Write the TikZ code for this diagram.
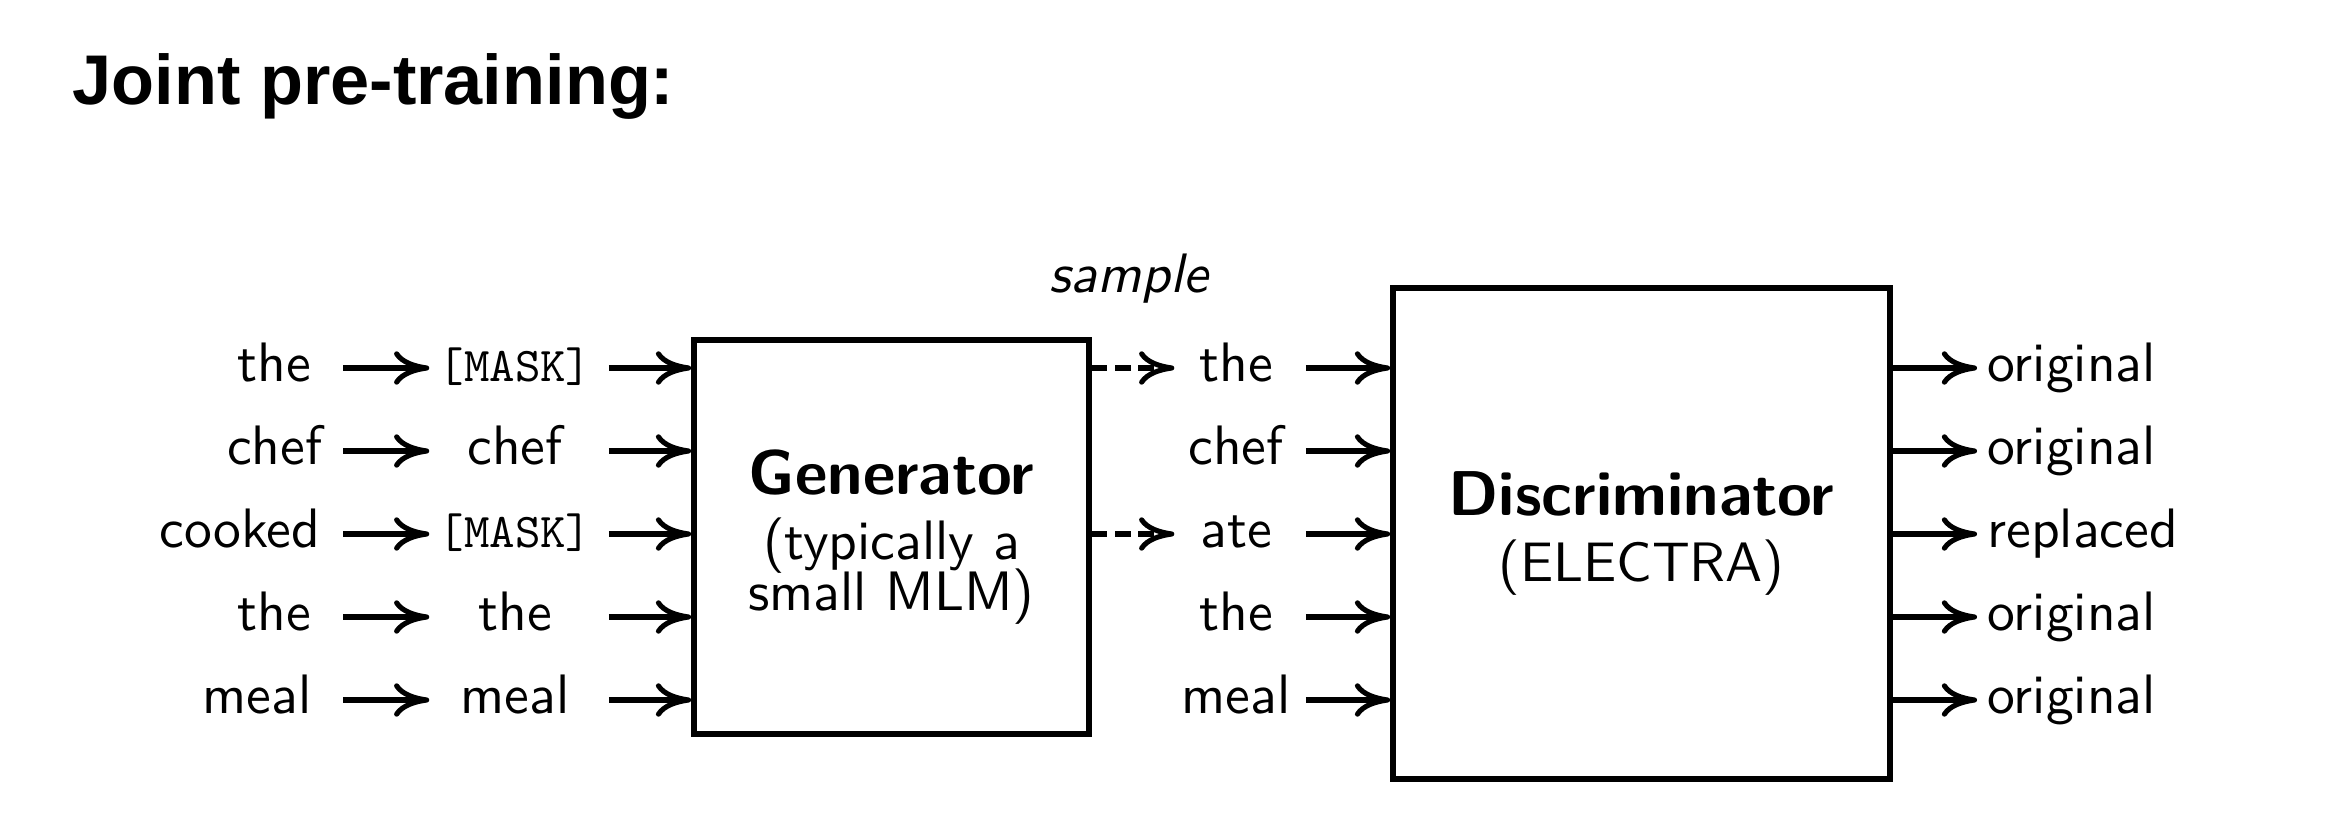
\documentclass[tikz,border=0pt]{standalone}
\usepackage{fontspec}
\usetikzlibrary{arrows.meta}
\setsansfont{lmsans10}[Extension=.otf, UprightFont=*-regular, BoldFont=*-bold, ItalicFont=*-oblique, BoldItalicFont=*-boldoblique]
\setmonofont{lmmono10}[Extension=.otf, UprightFont=*-regular]
\newfontfamily\titlefam{Liberation Sans}
\newcommand\mytitle{\titlefam\bfseries\fontsize{20}{24}\selectfont}
\newcommand\myword{\sffamily\fontsize{15.8}{14.2}\selectfont\lineskiplimit=-20pt\relax}
\newcommand\mybold{\sffamily\bfseries\fontsize{18}{14.2}\selectfont}
\newcommand\mymono{\ttfamily\fontsize{13.8}{14.2}\selectfont}
\newcommand\mysample{\sffamily\itshape\fontsize{15.8}{14.2}\selectfont}
\begin{document}
\begin{tikzpicture}[x=0.01cm,y=-0.01cm,
  word/.style={font=\myword, text height=11.8pt, text depth=4pt, inner ysep=2pt, inner xsep=0pt},
  mid/.style={word, minimum width=1.7cm},
  rmid/.style={word, minimum width=1.22cm},
  outw/.style={word, anchor=west, inner xsep=2.8pt},
  box/.style={draw, line width=1.6pt, font=\myword, align=center, inner sep=0pt},
  arr/.style={line width=1.45pt, -{Computer Modern Rightarrow[length=10pt,width=9.5pt]}},
  dsh/.style={arr, dash pattern=on 4.4pt off 2.2pt}
]
\useasboundingbox (0,0) rectangle (2349,816);

\node[font=\mytitle, anchor=base west, inner sep=0pt] (title) at (72,105) {Joint pre-training:};

% boxes
\node[box, minimum width=3.95cm, minimum height=3.94cm] (gen) at (891.5,537)
  {{\mybold Generator}\\[4.4pt] (typically a\\[0.4pt] small MLM)};
\node[box, minimum width=4.97cm, minimum height=4.91cm] (disc) at (1641.5,533.5)
  {{\mybold Discriminator}\\[4.3pt] (ELECTRA)};

\node[font=\mysample, anchor=base, inner sep=0pt] (smp) at (1129,293) {sample};

% input words
\node[word, anchor=east] (l1) at (312,368) {the};
\node[word, anchor=east] (l2) at (323,451) {chef};
\node[word, anchor=east] (l3) at (321,534) {cooked};
\node[word, anchor=east] (l4) at (312,617) {the};
\node[word, anchor=east] (l5) at (312,700) {meal};
\coordinate (a1) at (343,0);

% masked words
\node[mid] (m1) at (515,368) {\mymono [MASK]};
\node[mid] (m2) at (515,451) {chef};
\node[mid] (m3) at (515,534) {\mymono [MASK]};
\node[mid] (m4) at (515,617) {the};
\node[mid] (m5) at (515,700) {meal};

% sampled words
\node[rmid] (r1) at (1236,368) {the};
\node[rmid] (r2) at (1236,451) {chef};
\node[rmid] (r3) at (1236,534) {ate};
\node[rmid] (r4) at (1236,617) {the};
\node[rmid] (r5) at (1236,700) {meal};

% outputs
\node[outw] (o1) at (1977,368) {original};
\node[outw] (o2) at (1977,451) {original};
\node[outw] (o3) at (1977,534) {replaced};
\node[outw] (o4) at (1977,617) {original};
\node[outw] (o5) at (1977,700) {original};

\foreach \i in {1,...,5}{
  \draw[arr] (a1 |- l\i) -- (m\i.west);
  \draw[arr, shorten <=2.3pt] (m\i.east) -- (m\i -| gen.west);
  \draw[arr, shorten <=2.3pt] (r\i.east) -- (r\i -| disc.west);
  \draw[arr] (disc.east |- o\i) -- (o\i.west);
}
\draw[dsh] (gen.east |- r1) -- (r1.west);
\draw[dsh] (gen.east |- r3) -- (r3.west);
\end{tikzpicture}
\end{document}
